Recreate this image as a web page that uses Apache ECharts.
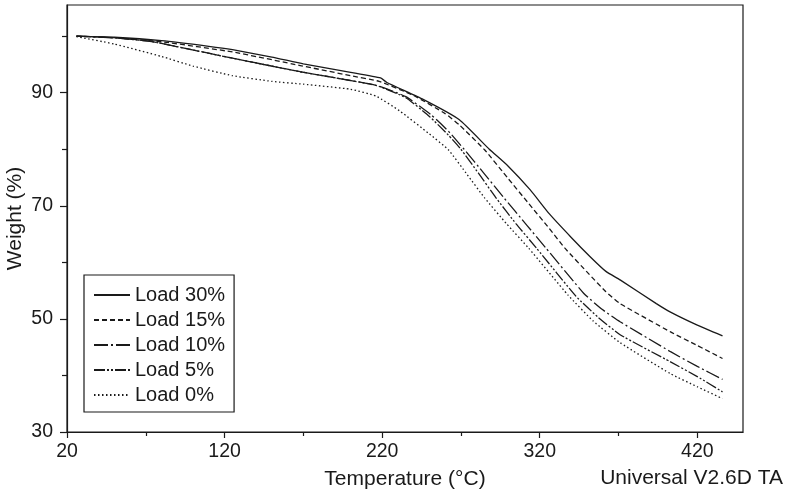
<!DOCTYPE html>
<html><head><meta charset="utf-8">
<script src="https://cdn.jsdelivr.net/npm/echarts@6/dist/echarts.min.js"></script>
<style>html,body{margin:0;padding:0;background:#fff}#c{width:788px;height:490px}</style>
</head><body><div id="c"></div>
<script>
const xTitle = 'Temperature (°C)';
const yTitle = 'Weight (%)';
const footer = 'Universal V2.6D TA';
const xMajor = [20, 120, 220, 320, 420];
const xMinor = [70, 170, 270, 370];
const yMajor = [30, 50, 70, 90];
const yMinor = [40, 60, 80, 100];
const seriesNames = ['Load 30%', 'Load 15%', 'Load 10%', 'Load 5%', 'Load 0%'];
const load30 = [[26,100],[50,99.8],[80,99.2],[110,98.2],[125,97.6],[150,96.3],[170,95.1],[200,93.6],[219,92.6],[223,91.8],[246,88.8],[269,85.2],[288,80.0],[300,77.0],[314,72.8],[326,68.6],[340,64.4],[352,61.0],[362,58.4],[371,56.9],[394,52.7],[403,51.2],[420,48.9],[436,47.0]];
const load15 = [[26,100],[50,99.7],[80,99.0],[125,97.2],[168,94.8],[200,93.0],[218,92.0],[240,89.5],[260,86.3],[269,84.3],[285,79.9],[300,74.8],[313,70.4],[326,66.0],[336,62.5],[351,58.0],[362,54.8],[371,52.7],[403,47.7],[420,45.3],[436,43.0]];
const load10 = [[26,100],[50,99.7],[72,99.1],[80,98.7],[125,96.1],[168,93.7],[216,91.3],[235,89.3],[251,86.1],[262,83.2],[272,80.0],[285,75.6],[297,71.5],[312,66.5],[324,62.5],[348,54.5],[360,51.6],[371,49.5],[403,44.2],[420,41.6],[436,39.3]];
const load5 = [[26,100],[50,99.7],[72,99.1],[80,98.7],[125,96.1],[168,93.7],[216,91.3],[235,89.1],[250,85.8],[262,82.5],[270,80.0],[281,75.8],[292,71.5],[305,66.8],[318,62.5],[343,54.0],[357,50.3],[371,47.2],[403,42.4],[420,39.8],[436,37.1]];
const load0 = [[26,99.9],[50,98.6],[80,96.4],[100,94.7],[125,93.0],[150,92.0],[170,91.5],[200,90.6],[216,89.4],[231,86.8],[250,82.7],[262,79.9],[274,75.5],[285,71.4],[299,66.8],[313,62.5],[338,54.2],[354,49.6],[371,45.8],[403,40.3],[420,38.0],[436,35.9]];
const allData = [load30, load15, load10, load5, load0];
const dashes = ['solid', [5,3], [14,3,2,3], [11,2,2,2,2,2], [1.5,2.5]];

const FONT = "'Liberation Sans', Arial, sans-serif";
const INK = '#1a1a1a';
const X_MIN = 20, X_MAX = 449, Y_MIN = 30, Y_MAX = 105.5;
const chart = echarts.init(document.getElementById('c'), null, {renderer: 'canvas'});
const tickLine = {color: INK, width: 1.2};
chart.setOption({
  animation: false,
  backgroundColor: '#fff',
  grid: {left: 67, top: 5, width: 676, height: 427, containLabel: false, outerBoundsMode: 'none',
         show: true, borderColor: INK, borderWidth: 1.2, backgroundColor: 'transparent'},
  xAxis: [{
    type: 'value', min: X_MIN, max: X_MAX, interval: 100, position: 'bottom',
    axisLine: {show: true, onZero: false, lineStyle: tickLine},
    axisTick: {show: true, inside: false, length: 6, customValues: xMajor, lineStyle: tickLine},
    splitLine: {show: false},
    axisLabel: {color: INK, fontSize: 19.5, fontFamily: FONT, margin: 10, customValues: xMajor, alignMinLabel: 'center', alignMaxLabel: 'center'},
    name: xTitle, nameLocation: 'middle', nameGap: 37, nameMoveOverlap: false,
    nameTextStyle: {color: INK, fontSize: 21, fontFamily: FONT, lineHeight: 21}
  }, {
    type: 'value', min: X_MIN, max: X_MAX, interval: 100, position: 'bottom',
    axisLine: {show: false, onZero: false},
    axisTick: {show: true, inside: false, length: 4, customValues: xMinor, lineStyle: tickLine},
    axisLabel: {show: false}, splitLine: {show: false}
  }],
  yAxis: [{
    type: 'value', min: Y_MIN, max: Y_MAX, interval: 20, position: 'left',
    axisLine: {show: true, onZero: false, lineStyle: tickLine},
    axisTick: {show: true, inside: false, length: 7, customValues: yMajor, lineStyle: tickLine},
    splitLine: {show: false},
    axisLabel: {color: INK, fontSize: 19.5, fontFamily: FONT, margin: 14, customValues: yMajor, verticalAlignMinLabel: 'middle', verticalAlignMaxLabel: 'middle'},
    name: yTitle, nameLocation: 'middle', nameGap: 41, nameMoveOverlap: false,
    nameTextStyle: {color: INK, fontSize: 21, fontFamily: FONT, lineHeight: 21}
  }, {
    type: 'value', min: Y_MIN, max: Y_MAX, interval: 20, position: 'left',
    axisLine: {show: false, onZero: false},
    axisTick: {show: true, inside: false, length: 5, customValues: yMinor, lineStyle: tickLine},
    axisLabel: {show: false}, splitLine: {show: false}
  }],
  legend: {
    orient: 'vertical', left: 84, top: 275,
    padding: [10, 9, 7, 9], itemGap: 5, itemWidth: 36, itemHeight: 14,
    borderColor: INK, borderWidth: 1.2, backgroundColor: '#fff',
    itemStyle: {color: 'transparent', borderColor: 'transparent', borderWidth: 0},
    textStyle: {color: INK, fontSize: 20, fontFamily: FONT, lineHeight: 20},
    data: seriesNames
  },
  graphic: [{
    type: 'text', right: 5, top: 468,
    style: {text: footer, fill: INK, font: '21px ' + FONT}
  }],
  series: seriesNames.map((n, i) => ({
    name: n, type: 'line', data: allData[i], symbol: 'none', smooth: 0.15,
    xAxisIndex: 0, yAxisIndex: 0,
    lineStyle: {color: INK, width: 1.3, type: dashes[i]},
    itemStyle: {color: INK}
  }))
});
</script></body></html>
